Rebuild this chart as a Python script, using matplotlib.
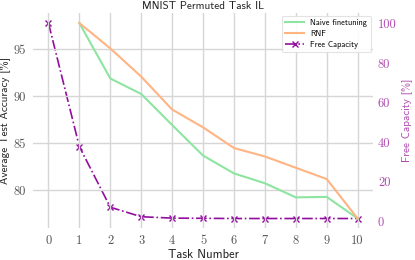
import matplotlib
matplotlib.use("Agg")
import matplotlib.pyplot as plt

# data
tasks = [0, 1, 2, 3, 4, 5, 6, 7, 8, 9, 10]
acc_tasks = [1, 2, 3, 4, 5, 6, 7, 8, 9, 10]
naive_acc = [97.8, 91.9, 90.25, 86.95, 83.7, 81.8, 80.75, 79.25, 79.3, 77.0]
rnf_acc = [97.8, 95.1, 92.1, 88.6, 86.7, 84.5, 83.6, 82.4, 81.2, 77.0]
free_capacity = [100.2, 37.8, 7.2, 2.4, 1.7, 1.6, 1.5, 1.5, 1.5, 1.5, 1.5]

GREEN = '#8de5a1'
ORANGE = '#ffb482'
PURPLE = '#920e9e'
PURPLE_LIGHT = '#b04ab0'
SANS = ['cmss10', 'DejaVu Sans']
SERIF = ['cmr10', 'DejaVu Serif']

plt.rcParams['axes.unicode_minus'] = False

fig = plt.figure(figsize=(4.15, 2.6), dpi=100)
ax = fig.add_axes([0.0795, 0.122, 0.8195, 0.827])
ax2 = ax.twinx()

l1, = ax.plot(acc_tasks, naive_acc, color=GREEN, lw=1.5, label='Naive finetuning')
l2, = ax.plot(acc_tasks, rnf_acc, color=ORANGE, lw=1.5, label='RNF')
l3, = ax2.plot(tasks, free_capacity, color=PURPLE, lw=1.2, ls='-.', marker='x',
               markersize=5, markeredgewidth=1.0, label='Free Capacity')

ax.set_xlim(-0.5, 10.5)
ax.set_xticks(tasks)
ax.set_yticks([80, 85, 90, 95])
ax2.set_yticks([0, 20, 40, 60, 80, 100])

for a in (ax, ax2):
    for s in a.spines.values():
        s.set_visible(False)
    a.tick_params(length=0)
ax.grid(True, color='#d6d6d6', lw=1)
ax.set_axisbelow(True)

ax.tick_params(axis='y', labelsize=9, colors='#555555', pad=5)
ax.tick_params(axis='x', labelsize=9, colors='#555555', pad=5)
ax2.tick_params(axis='y', labelsize=9, colors=PURPLE_LIGHT, pad=3.5)
for lab in ax.get_xticklabels() + ax.get_yticklabels() + ax2.get_yticklabels():
    lab.set_family(SERIF)

ax.set_title('MNIST Permuted Task IL', fontsize=8, family=SANS, color='#222222', pad=3)
ax.set_xlabel('Task Number', fontsize=9, family=SANS, color='#222222', labelpad=1)
ax.set_ylabel('Average Test Accuracy [%]', fontsize=8, family=SANS, color='#222222', labelpad=3)
ax2.set_ylabel('Free Capacity [%]', fontsize=8, family=SANS, color=PURPLE_LIGHT, labelpad=3)

leg = ax.legend([l1, l2, l3], ['Naive finetuning', 'RNF', 'Free Capacity'],
                loc='upper right', prop={'family': SANS, 'size': 6},
                frameon=True, framealpha=0.9, edgecolor='#e0e0e0',
                borderpad=0.4, handlelength=2.2, labelspacing=0.35, borderaxespad=0.3)
leg.get_frame().set_linewidth(0.8)
ax.set_zorder(ax2.get_zorder() + 1)
ax.patch.set_visible(False)

fig.savefig('out.png', dpi=100)
